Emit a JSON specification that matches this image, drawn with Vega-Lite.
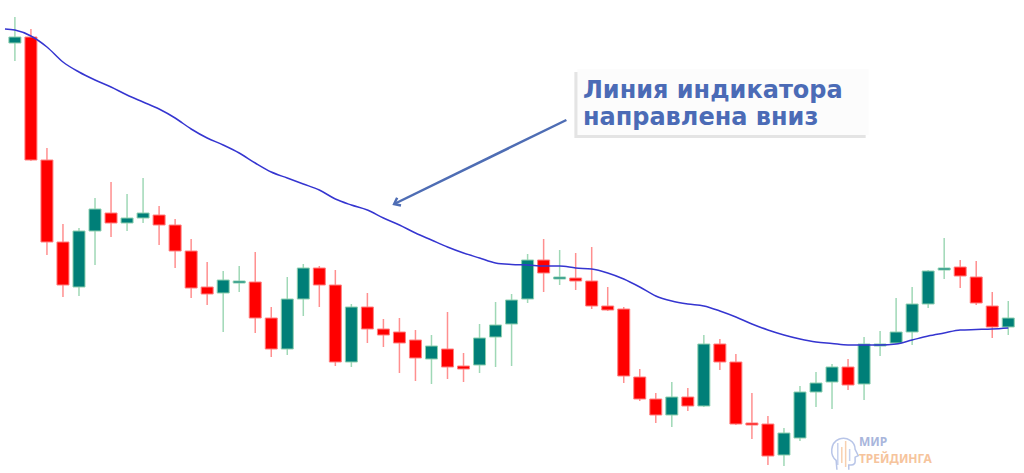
{
  "$schema": "https://vega.github.io/schema/vega-lite/v6.json",
  "width": 1024,
  "height": 473,
  "autosize": {"type": "fit", "contains": "padding"},
  "padding": 0,
  "background": "white",
  "config": {"view": {"stroke": null}},
  "datasets": {
    "candles": [
      {"i":0,"o":430,"h":456,"l":412,"c":436},
      {"i":1,"o":436,"h":444,"l":312,"c":313},
      {"i":2,"o":313,"h":325,"l":218,"c":231},
      {"i":3,"o":231,"h":249,"l":176,"c":188},
      {"i":4,"o":186,"h":245,"l":177,"c":242},
      {"i":5,"o":242,"h":275,"l":208,"c":264},
      {"i":6,"o":260,"h":291,"l":236,"c":250},
      {"i":7,"o":250,"h":279,"l":242,"c":255},
      {"i":8,"o":255,"h":295,"l":250,"c":260},
      {"i":9,"o":258,"h":267,"l":228,"c":248},
      {"i":10,"o":248,"h":254,"l":205,"c":222},
      {"i":11,"o":222,"h":234,"l":175,"c":185},
      {"i":12,"o":186,"h":211,"l":168,"c":179},
      {"i":13,"o":180,"h":202,"l":141,"c":193},
      {"i":14,"o":190,"h":207,"l":181,"c":192},
      {"i":15,"o":191,"h":221,"l":140,"c":155},
      {"i":16,"o":155,"h":166,"l":116,"c":124},
      {"i":17,"o":124,"h":196,"l":118,"c":174},
      {"i":18,"o":174,"h":209,"l":157,"c":205},
      {"i":19,"o":205,"h":207,"l":166,"c":188},
      {"i":20,"o":188,"h":203,"l":107,"c":111},
      {"i":21,"o":111,"h":169,"l":106,"c":166},
      {"i":22,"o":166,"h":180,"l":130,"c":144},
      {"i":23,"o":144,"h":154,"l":126,"c":138},
      {"i":24,"o":141,"h":155,"l":100,"c":130},
      {"i":25,"o":133,"h":143,"l":92,"c":115},
      {"i":26,"o":114,"h":138,"l":89,"c":127},
      {"i":27,"o":124,"h":161,"l":94,"c":106},
      {"i":28,"o":107,"h":120,"l":91,"c":104},
      {"i":29,"o":108,"h":149,"l":100,"c":135},
      {"i":30,"o":136,"h":171,"l":106,"c":148},
      {"i":31,"o":149,"h":179,"l":107,"c":173},
      {"i":32,"o":174,"h":219,"l":170,"c":213},
      {"i":33,"o":213,"h":234,"l":181,"c":200},
      {"i":34,"o":194,"h":223,"l":188,"c":196},
      {"i":35,"o":195,"h":220,"l":183,"c":192},
      {"i":36,"o":192,"h":226,"l":164,"c":167},
      {"i":37,"o":167,"h":186,"l":162,"c":163},
      {"i":38,"o":164,"h":166,"l":90,"c":97},
      {"i":39,"o":96,"h":104,"l":72,"c":74},
      {"i":40,"o":74,"h":80,"l":50,"c":58},
      {"i":41,"o":58,"h":91,"l":46,"c":76},
      {"i":42,"o":76,"h":85,"l":62,"c":67},
      {"i":43,"o":67,"h":138,"l":66,"c":129},
      {"i":44,"o":129,"h":134,"l":103,"c":111},
      {"i":45,"o":111,"h":119,"l":48,"c":49},
      {"i":46,"o":50,"h":80,"l":34,"c":48},
      {"i":47,"o":49,"h":57,"l":8,"c":17},
      {"i":48,"o":18,"h":45,"l":7,"c":40},
      {"i":49,"o":35,"h":87,"l":32,"c":81},
      {"i":50,"o":81,"h":101,"l":66,"c":90},
      {"i":51,"o":91,"h":109,"l":64,"c":106},
      {"i":52,"o":106,"h":114,"l":83,"c":88},
      {"i":53,"o":89,"h":136,"l":73,"c":129},
      {"i":54,"o":127,"h":142,"l":117,"c":129},
      {"i":55,"o":130,"h":175,"l":129,"c":141},
      {"i":56,"o":141,"h":186,"l":128,"c":169},
      {"i":57,"o":169,"h":203,"l":165,"c":202},
      {"i":58,"o":203,"h":235,"l":194,"c":205},
      {"i":59,"o":206,"h":213,"l":185,"c":197},
      {"i":60,"o":196,"h":212,"l":168,"c":170},
      {"i":61,"o":167,"h":181,"l":135,"c":146},
      {"i":62,"o":146,"h":172,"l":138,"c":155}
    ],
    "ma": [
      {"i":-0.62,"v":444},{"i":0,"v":443},{"i":1,"v":437},{"i":2,"v":426},{"i":3,"v":411},
      {"i":4,"v":401},{"i":5,"v":393},{"i":6,"v":386},{"i":7,"v":378},{"i":8,"v":371},
      {"i":9,"v":364},{"i":10,"v":355},{"i":11,"v":344},{"i":12,"v":335},{"i":13,"v":328},
      {"i":14,"v":320},{"i":15,"v":310},{"i":16,"v":301},{"i":17,"v":295},{"i":18,"v":289},
      {"i":19,"v":283},{"i":20,"v":274},{"i":21,"v":268},{"i":22,"v":263},{"i":23,"v":255},
      {"i":24,"v":248},{"i":25,"v":240},{"i":26,"v":233},{"i":27,"v":226},{"i":28,"v":220},
      {"i":29,"v":215},{"i":30,"v":210},{"i":31,"v":208.5},{"i":32,"v":208},{"i":33,"v":207},
      {"i":34,"v":207},{"i":35,"v":205},{"i":36,"v":204},{"i":37,"v":200},{"i":38,"v":194},
      {"i":39,"v":186},{"i":40,"v":177},{"i":41,"v":172},{"i":42,"v":169},{"i":43,"v":167},
      {"i":44,"v":162},{"i":45,"v":156},{"i":46,"v":149},{"i":47,"v":143},{"i":48,"v":138},
      {"i":49,"v":134},{"i":50,"v":131},{"i":51,"v":129.5},{"i":52,"v":128},{"i":53,"v":128},
      {"i":54,"v":128},{"i":55,"v":129},{"i":56,"v":133},{"i":57,"v":137},{"i":58,"v":140},
      {"i":59,"v":143},{"i":60,"v":143.5},{"i":61,"v":144},{"i":62,"v":145}
    ],
    "arrow": [{"x1":34.42,"p1":353,"x2":23.67,"p2":269}],
    "box": [
      {"layer":"shadow","x1":34.92,"x2":53.1,"p1":401,"p2":335},
      {"layer":"main","x1":35.11,"x2":53.28,"p1":404,"p2":338}
    ],
    "label": [
      {"x":35.45,"p":375,"t":"Линия индикатора\nнаправлена вниз"}
    ],
    "logo": [
      {"x":52.68,"p":27,"t":"МИР","col":"#a9b6dc"},
      {"x":52.68,"p":10,"t":"ТРЕЙДИНГА","col":"#f6c49c"}
    ],
    "logoHead": [{"x":51.75,"p":19}],
    "logoBars": [
      {"x":51.36,"top":30,"bot":8,"col":"#b8c5e8"},
      {"x":51.61,"top":26,"bot":10,"col":"#f6c49c"},
      {"x":51.85,"top":32,"bot":6,"col":"#f6c49c"},
      {"x":52.1,"top":24,"bot":12,"col":"#b8c5e8"}
    ]
  },
  "layer": [
    {
      "data": {"name": "candles"},
      "mark": {"type": "rule", "strokeWidth": 1.5},
      "encoding": {
        "x": {"field": "i", "type": "quantitative", "scale": {"domain": [-0.618, 62.67], "nice": false, "zero": false}, "axis": null},
        "y": {"field": "l", "type": "quantitative", "scale": {"domain": [0, 473], "nice": false, "zero": false}, "axis": null},
        "y2": {"field": "h"},
        "color": {"condition": {"test": "datum.c >= datum.o", "value": "#9fd8b6"}, "value": "#ff8f8f"}
      }
    },
    {
      "data": {"name": "candles"},
      "mark": {"type": "bar", "size": 12, "strokeWidth": 1},
      "encoding": {
        "x": {"field": "i", "type": "quantitative"},
        "y": {"field": "o", "type": "quantitative"},
        "y2": {"field": "c"},
        "fill": {"condition": {"test": "datum.c >= datum.o", "value": "#007f78"}, "value": "#ff0000"},
        "stroke": {"condition": {"test": "datum.c >= datum.o", "value": "#8fd0b0"}, "value": "#ff8080"}
      }
    },
    {
      "data": {"name": "ma"},
      "mark": {"type": "line", "color": "#3535d0", "strokeWidth": 1.5, "interpolate": "monotone"},
      "encoding": {
        "x": {"field": "i", "type": "quantitative"},
        "y": {"field": "v", "type": "quantitative"}
      }
    },
    {
      "data": {"name": "arrow"},
      "mark": {"type": "rule", "color": "#4e6db4", "strokeWidth": 2.5},
      "encoding": {
        "x": {"field": "x1", "type": "quantitative"},
        "y": {"field": "p1", "type": "quantitative"},
        "x2": {"field": "x2"},
        "y2": {"field": "p2"}
      }
    },
    {
      "data": {"name": "arrow"},
      "mark": {"type": "point", "shape": "M-1,-0.8L0,0L-1,0.8", "filled": false, "stroke": "#4e6db4", "strokeWidth": 2.5, "size": 120, "angle": 154, "opacity": 1},
      "encoding": {
        "x": {"field": "x2", "type": "quantitative"},
        "y": {"field": "p2", "type": "quantitative"}
      }
    },
    {
      "data": {"name": "box"},
      "mark": {"type": "rect"},
      "encoding": {
        "x": {"field": "x1", "type": "quantitative"},
        "x2": {"field": "x2"},
        "y": {"field": "p1", "type": "quantitative"},
        "y2": {"field": "p2"},
        "fill": {"condition": {"test": "datum.layer === 'shadow'", "value": "#e4e4e4"}, "value": "#fcfcfc"}
      }
    },
    {
      "data": {"name": "label"},
      "mark": {"type": "text", "align": "left", "baseline": "alphabetic", "font": "DejaVu Sans", "fontWeight": "bold", "fontSize": 24, "lineBreak": "\n", "lineHeight": 27, "color": "#4b6bb6"},
      "encoding": {
        "x": {"field": "x", "type": "quantitative"},
        "y": {"field": "p", "type": "quantitative"},
        "text": {"field": "t"}
      }
    },
    {
      "data": {"name": "logoBars"},
      "mark": {"type": "rule", "strokeWidth": 1.5, "opacity": 0.8},
      "encoding": {
        "x": {"field": "x", "type": "quantitative"},
        "y": {"field": "bot", "type": "quantitative"},
        "y2": {"field": "top"},
        "color": {"field": "col", "type": "nominal", "scale": null}
      }
    },
    {
      "data": {"name": "logoHead"},
      "mark": {"type": "point", "shape": "M-0.45,1L-0.5,0.4C-0.9,0.1 -0.9,-0.7 -0.3,-0.95C0.2,-1.1 0.7,-0.8 0.7,-0.3L0.9,0.1L0.7,0.2L0.7,0.5C0.7,0.7 0.5,0.7 0.3,0.7L0.3,1", "filled": false, "stroke": "#b8c5e8", "strokeWidth": 1.5, "size": 1000, "opacity": 1},
      "encoding": {
        "x": {"field": "x", "type": "quantitative"},
        "y": {"field": "p", "type": "quantitative"}
      }
    },
    {
      "data": {"name": "logo"},
      "mark": {"type": "text", "align": "left", "baseline": "alphabetic", "font": "Noto Sans", "fontWeight": "bold", "fontSize": 12},
      "encoding": {
        "x": {"field": "x", "type": "quantitative"},
        "y": {"field": "p", "type": "quantitative"},
        "text": {"field": "t"},
        "color": {"field": "col", "type": "nominal", "scale": null}
      }
    }
  ]
}
